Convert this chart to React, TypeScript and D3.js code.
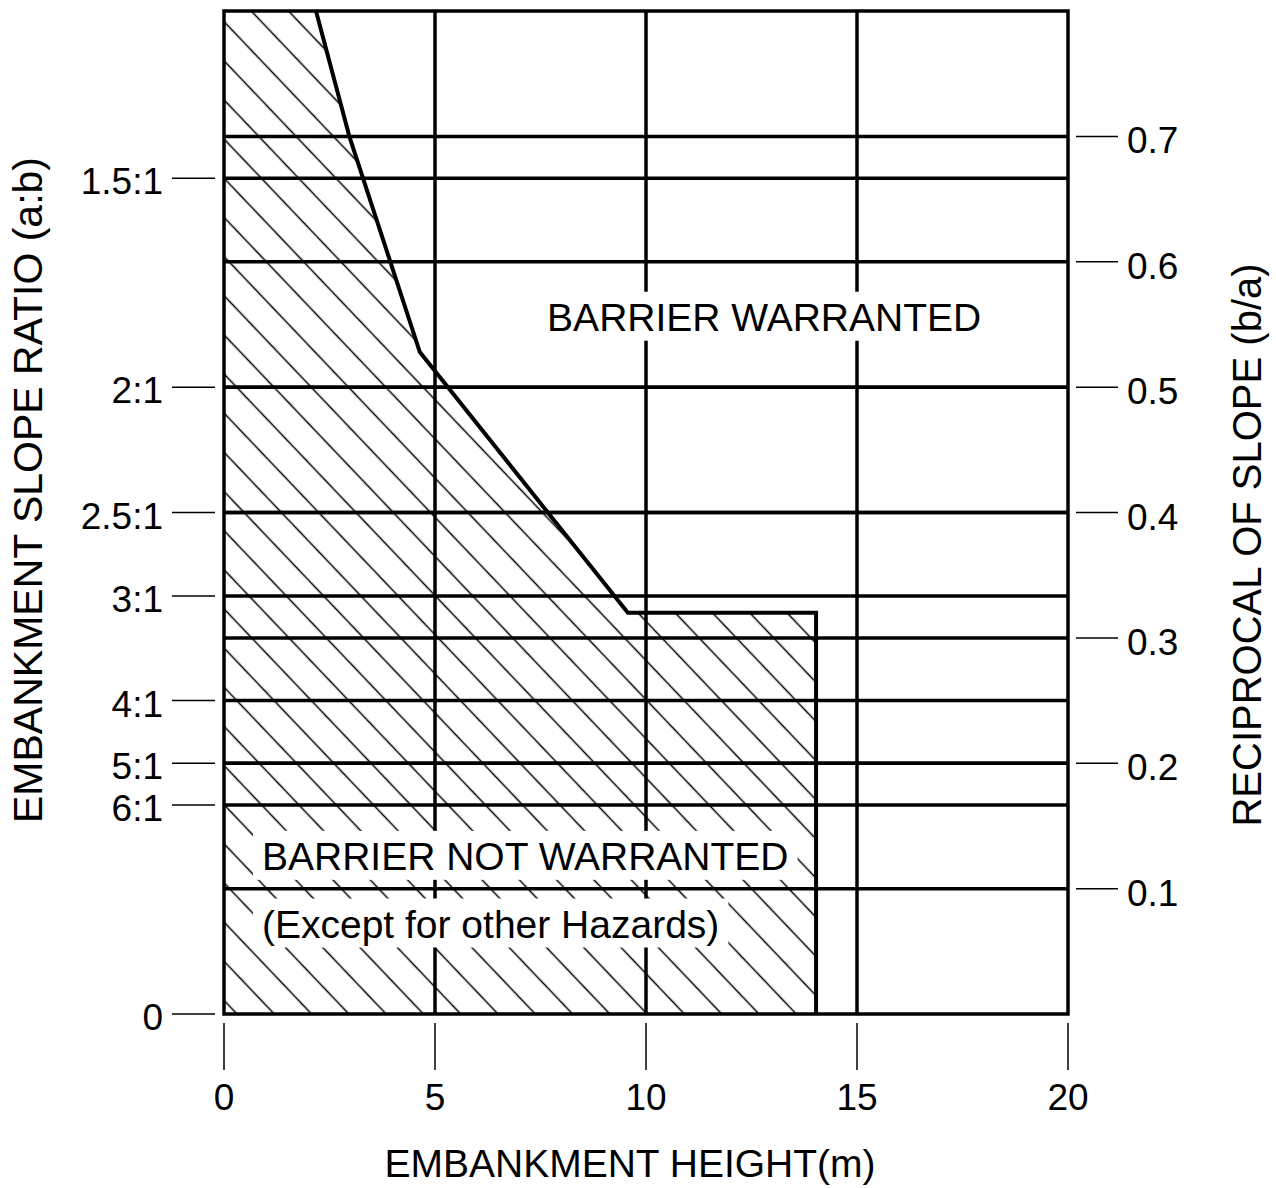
import * as d3 from 'd3';
import { useEffect, useRef } from 'react';

const width = 1276;
const height = 1188;
const plotLeft = 224;
const plotRight = 1068;
const plotTop = 11;
const plotBottom = 1014;
const font = '"Liberation Sans", Arial, Helvetica, sans-serif';

// 軸の目盛り
const heightTicks = [0, 5, 10, 15, 20];
const heightGrid = [5, 10, 15];
const reciprocalTicks = [0.1, 0.2, 0.3, 0.4, 0.5, 0.6, 0.7];
const slopeRatios = [1.5, 2, 2.5, 3, 4, 5, 6];
const slopeLabels = ['1.5:1', '2:1', '2.5:1', '3:1', '4:1', '5:1', '6:1'];

// 境界線 (高さ m, 勾配の逆数 b/a)
const boundaryHeight = [2.18, 2.97, 4.64, 9.57, 14.03, 14.03];
const boundaryReciprocal = [0.8, 0.7, 0.528, 0.32, 0.32, 0];

// 注記
const noteTexts = ['BARRIER WARRANTED', 'BARRIER NOT WARRANTED', '(Except for other Hazards)'];
const noteHeight = [12.8, 0.9, 0.9];
const noteReciprocal = [0.545, 0.115, 0.061];
const noteAnchor = ['middle', 'start', 'start'];

export default function App() {
  const ref = useRef<HTMLDivElement>(null);

  useEffect(() => {
    if (!ref.current) return;

    const x = d3.scaleLinear().domain([0, 20]).range([plotLeft, plotRight]);
    const y = d3.scaleLinear().domain([0, 0.8]).range([plotBottom, plotTop]);

    const svg = d3
      .create('svg')
      .attr('width', width)
      .attr('height', height)
      .style('position', 'absolute')
      .style('left', '0px')
      .style('top', '0px')
      .style('background', '#fff')
      .attr('font-family', font);

    // ハッチング用パターン
    const defs = svg.append('defs');
    const angle = 46.4;
    const spacing = 27;
    const rad = (angle * Math.PI) / 180;
    const ox = x(0) + 13 + Math.sin(rad) * (spacing / 2);
    const oy = y(0) - Math.cos(rad) * (spacing / 2);
    const pattern = defs
      .append('pattern')
      .attr('id', 'hatch')
      .attr('patternUnits', 'userSpaceOnUse')
      .attr('width', 40)
      .attr('height', spacing)
      .attr('patternTransform', `translate(${ox},${oy}) rotate(${angle})`);
    pattern
      .append('line')
      .attr('x1', 0)
      .attr('x2', 40)
      .attr('y1', spacing / 2)
      .attr('y2', spacing / 2)
      .attr('stroke', '#000')
      .attr('stroke-width', 1.3);

    const pts: Array<[number, number]> = boundaryHeight.map((h, i) => [h, boundaryReciprocal[i]]);
    const region: Array<[number, number]> = [[0, 0.8], ...pts, [0, 0]];

    const line = d3
      .line<[number, number]>()
      .x((d) => x(d[0]))
      .y((d) => y(d[1]));

    // ハッチ領域
    svg
      .append('path')
      .attr('d', line(region) + 'Z')
      .attr('fill', 'url(#hatch)');

    // 縦グリッド
    svg
      .append('g')
      .selectAll('line')
      .data(heightGrid)
      .join('line')
      .attr('x1', (d) => x(d))
      .attr('x2', (d) => x(d))
      .attr('y1', y(0.8))
      .attr('y2', y(0))
      .attr('stroke', '#000')
      .attr('stroke-width', 3.5);

    // 注記の背景（白抜き）
    const bgLayer = svg.append('g');

    // 横グリッド
    const hLines = [...reciprocalTicks, ...slopeRatios.map((r) => 1 / r)];
    svg
      .append('g')
      .selectAll('line')
      .data(hLines)
      .join('line')
      .attr('x1', x(0))
      .attr('x2', x(20))
      .attr('y1', (d) => y(d))
      .attr('y2', (d) => y(d))
      .attr('stroke', '#000')
      .attr('stroke-width', 3.5);

    // 枠
    svg
      .append('rect')
      .attr('x', x(0))
      .attr('y', y(0.8))
      .attr('width', x(20) - x(0))
      .attr('height', y(0) - y(0.8))
      .attr('fill', 'none')
      .attr('stroke', '#000')
      .attr('stroke-width', 3.5);

    // 境界線
    svg
      .append('path')
      .datum(pts)
      .attr('d', line)
      .attr('fill', 'none')
      .attr('stroke', '#000')
      .attr('stroke-width', 4)
      .attr('stroke-linejoin', 'miter');

    // 注記テキスト
    const notes = svg
      .append('g')
      .selectAll('text')
      .data(noteTexts)
      .join('text')
      .attr('x', (_, i) => x(noteHeight[i]))
      .attr('y', (_, i) => y(noteReciprocal[i]))
      .attr('text-anchor', (_, i) => noteAnchor[i])
      .attr('font-size', 39)
      .attr('fill', '#000')
      .text((d) => d);

    // 左軸
    const left = svg.append('g');
    left
      .selectAll('line')
      .data([0, ...slopeRatios.map((r) => 1 / r)])
      .join('line')
      .attr('x1', x(0) - 52)
      .attr('x2', x(0) - 9)
      .attr('y1', (d) => y(d))
      .attr('y2', (d) => y(d))
      .attr('stroke', '#000')
      .attr('stroke-width', 1.5);
    left
      .selectAll('text')
      .data(['0', ...slopeLabels])
      .join('text')
      .attr('x', x(0) - 61)
      .attr('y', (_, i) => y(i === 0 ? 0 : 1 / slopeRatios[i - 1]) + 16)
      .attr('text-anchor', 'end')
      .attr('font-size', 37)
      .text((d) => d);

    // 右軸
    const right = svg.append('g');
    right
      .selectAll('line')
      .data(reciprocalTicks)
      .join('line')
      .attr('x1', x(20) + 8)
      .attr('x2', x(20) + 50)
      .attr('y1', (d) => y(d))
      .attr('y2', (d) => y(d))
      .attr('stroke', '#000')
      .attr('stroke-width', 1.5);
    right
      .selectAll('text')
      .data(reciprocalTicks)
      .join('text')
      .attr('x', x(20) + 59)
      .attr('y', (d) => y(d) + 17)
      .attr('font-size', 37)
      .text((d) => d3.format('.1f')(d));

    // 下軸
    const bottom = svg.append('g');
    bottom
      .selectAll('line')
      .data(heightTicks)
      .join('line')
      .attr('x1', (d) => x(d))
      .attr('x2', (d) => x(d))
      .attr('y1', y(0) + 9)
      .attr('y2', y(0) + 56)
      .attr('stroke', '#000')
      .attr('stroke-width', 1.5);
    bottom
      .selectAll('text')
      .data(heightTicks)
      .join('text')
      .attr('x', (d) => x(d))
      .attr('y', y(0) + 96)
      .attr('text-anchor', 'middle')
      .attr('font-size', 37)
      .text((d) => d);

    // 軸タイトル
    svg
      .append('text')
      .attr('x', 630)
      .attr('y', 1177)
      .attr('text-anchor', 'middle')
      .attr('font-size', 39)
      .text('EMBANKMENT HEIGHT(m)');
    svg
      .append('text')
      .attr('transform', 'translate(42,490) rotate(-90)')
      .attr('text-anchor', 'middle')
      .attr('font-size', 41)
      .text('EMBANKMENT SLOPE RATIO (a:b)');
    svg
      .append('text')
      .attr('transform', 'translate(1261,545) rotate(-90)')
      .attr('text-anchor', 'middle')
      .attr('font-size', 40)
      .text('RECIPROCAL OF SLOPE (b/a)');

    ref.current.innerHTML = '';
    ref.current.appendChild(svg.node()!);

    // テキストの大きさから白抜き背景を作る
    notes.each(function () {
      const b = (this as SVGTextElement).getBBox();
      bgLayer
        .append('rect')
        .attr('x', b.x - 9)
        .attr('y', b.y - 4)
        .attr('width', b.width + 18)
        .attr('height', b.height + 6)
        .attr('fill', '#fff');
    });
  }, []);

  return <div ref={ref} />;
}
